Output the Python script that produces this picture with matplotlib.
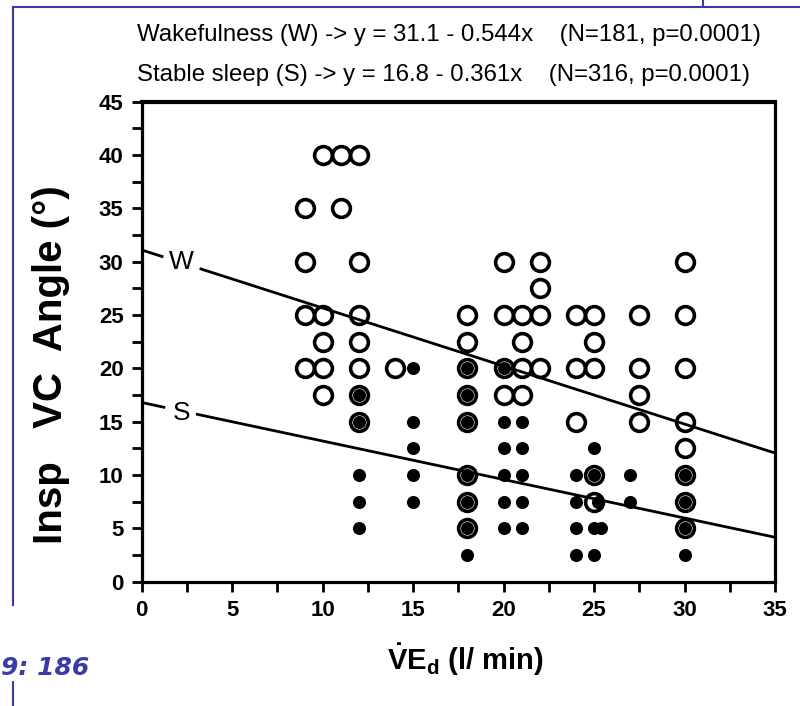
import matplotlib
matplotlib.use("Agg")
import matplotlib.pyplot as plt
from matplotlib.lines import Line2D
from matplotlib.ticker import MultipleLocator
import numpy as np

# wakefulness (open circles)
wake_x = [9, 9, 9, 9,
          10, 10, 10, 10, 10,
          11, 11,
          12, 12, 12, 12, 12, 12, 12,
          14,
          18, 18, 18, 18, 18, 18, 18, 18,
          20, 20, 20, 20,
          21, 21, 21, 21,
          22, 22, 22, 22,
          24, 24, 24,
          25, 25, 25, 25, 25,
          27.5, 27.5, 27.5, 27.5,
          30, 30, 30, 30, 30, 30, 30, 30]
wake_y = [35, 30, 25, 20,
          40, 25, 22.5, 20, 17.5,
          40, 35,
          40, 30, 25, 22.5, 20, 17.5, 15,
          20,
          25, 22.5, 20, 17.5, 15, 10, 7.5, 5,
          30, 25, 20, 17.5,
          25, 22.5, 20, 17.5,
          30, 27.5, 25, 20,
          25, 20, 15,
          25, 22.5, 20, 10, 7.5,
          25, 20, 17.5, 15,
          30, 25, 20, 15, 12.5, 10, 7.5, 5]

# stable sleep (filled dots)
sleep_x = [12, 12, 12, 12, 12,
           15, 15, 15, 15, 15,
           18, 18, 18, 18, 18, 18, 18,
           20, 20, 20, 20, 20, 20,
           21, 21, 21, 21, 21,
           24, 24, 24, 24,
           25, 25, 25.2, 25, 25.4, 25,
           27, 27,
           30, 30, 30, 30]
sleep_y = [17.5, 15, 10, 7.5, 5,
           20, 15, 12.5, 10, 7.5,
           20, 17.5, 15, 10, 7.5, 5, 2.5,
           20, 15, 12.5, 10, 7.5, 5,
           15, 12.5, 10, 7.5, 5,
           10, 7.5, 5, 2.5,
           12.5, 10, 7.5, 5, 5, 2.5,
           10, 7.5,
           10, 7.5, 5, 2.5]

# regression lines: y = a - b*x
wake_fit = (31.1, 0.544)
sleep_fit = (16.8, 0.361)
header = ["Wakefulness (W) -> y = 31.1 - 0.544x    (N=181, p=0.0001)",
          "Stable sleep (S) -> y = 16.8 - 0.361x    (N=316, p=0.0001)"]

W, H = 800, 706
plt.rcParams["font.family"] = ["Liberation Sans", "DejaVu Sans"]
plt.rcParams["mathtext.fontset"] = "custom"
plt.rcParams["mathtext.rm"] = "Liberation Sans"
plt.rcParams["mathtext.bf"] = "Liberation Sans:bold"

fig = plt.figure(figsize=(W / 100, H / 100), dpi=100)
fig.patch.set_facecolor("white")


def fx(px):
    return px / W


def fy(py):
    return 1 - py / H


ax = fig.add_axes([fx(141.7), fy(581.7), fx(775 - 141.7), (581.7 - 101.7) / H])
ax.set_xlim(0, 35)
ax.set_ylim(0, 45)

ax.plot(wake_x, wake_y, "o", ms=12.8, mfc="none", mec="black", mew=2.6,
        linestyle="none", zorder=3)
ax.plot(sleep_x, sleep_y, "o", ms=9.4, mfc="black", mec="black", mew=0,
        linestyle="none", zorder=4)


def fit_line(fit, x0, x1):
    xs = np.array([x0, x1])
    return xs, fit[0] - fit[1] * xs


for fit, gap, lab, lab_y in [(wake_fit, (1.2, 3.2), "W", 30),
                             (sleep_fit, (1.3, 3.0), "S", 15.8)]:
    for a, b in [(0, gap[0]), (gap[1], 35)]:
        xs, ys = fit_line(fit, a, b)
        ax.plot(xs, ys, color="black", lw=2.0, solid_capstyle="butt", zorder=2)
    ax.text(2.2, lab_y, lab, ha="center", va="center", fontsize=19, zorder=5)

for side in ["left", "right", "bottom", "top"]:
    ax.spines[side].set_linewidth(2.3)
ax.spines["top"].set_linewidth(3)

ax.xaxis.set_major_locator(MultipleLocator(5))
ax.xaxis.set_minor_locator(MultipleLocator(2.5))
ax.yaxis.set_major_locator(MultipleLocator(5))
ax.yaxis.set_minor_locator(MultipleLocator(2.5))
ax.tick_params(which="both", direction="out", width=2, length=7,
               top=False, right=False)
ax.tick_params(axis="both", labelsize=16, pad=6)
for t in ax.get_xticklabels() + ax.get_yticklabels():
    t.set_fontweight("bold")

ax.set_ylabel("Insp   VC  Angle (°)", fontsize=29, fontweight="bold")
ax.yaxis.set_label_coords((70 - 141.7) / (775 - 141.7), (581.7 - 365) / 480)
fig.text(fx(465), fy(660), r"$\mathbf{\dot{V}E_d}$ (l/ min)", fontsize=21,
         fontweight="bold", ha="center", va="center")

for i, line in enumerate(header):
    fig.text(fx(137), fy(35 + 40 * i), line, fontsize=17.3, ha="left",
             va="center")

fig.text(fx(1), fy(668), "9: 186", fontsize=18, fontweight="bold",
         fontstyle="italic", color="#3a3aa8", ha="left", va="center",
         family="DejaVu Sans")

blue = "#3a3aa8"
fig.add_artist(Line2D([fx(13), fx(800)], [fy(7), fy(7)], color=blue, lw=1.5))
fig.add_artist(Line2D([fx(703), fx(703)], [fy(0), fy(7)], color=blue, lw=1.5))
fig.add_artist(Line2D([fx(13), fx(13)], [fy(7), fy(605)], color=blue, lw=1.5))
fig.add_artist(Line2D([fx(13), fx(13)], [fy(682), fy(706)], color=blue, lw=1.5))

fig.savefig("out.png", dpi=100)
